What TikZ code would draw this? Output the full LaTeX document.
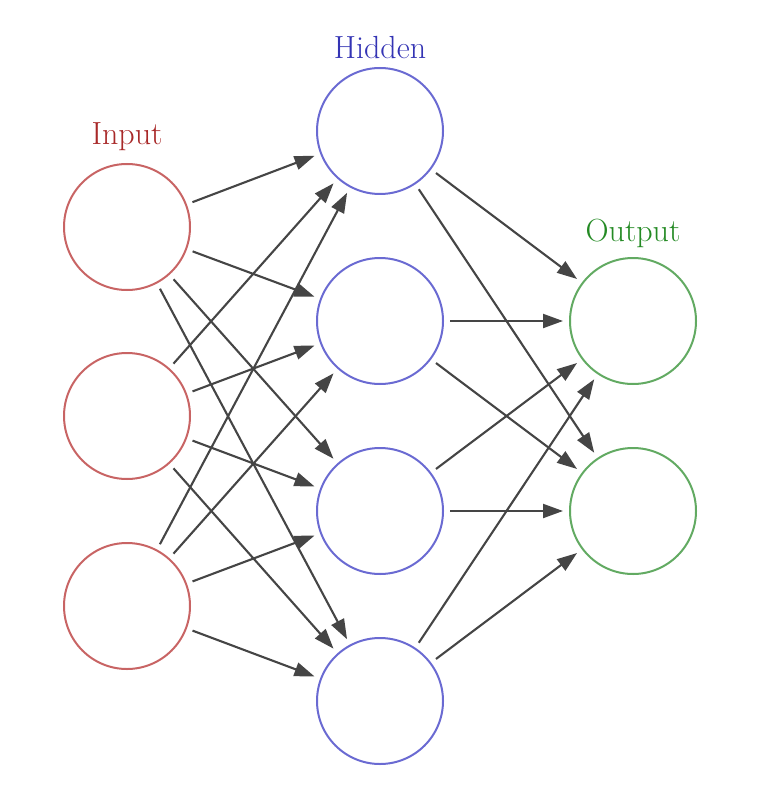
\documentclass[tikz,border=0pt]{standalone}
\usetikzlibrary{arrows.meta}
\definecolor{incirc}{HTML}{C86464}
\definecolor{hidcirc}{HTML}{6A6AD2}
\definecolor{outcirc}{HTML}{62AA62}
\definecolor{inlab}{HTML}{A82828}
\definecolor{hidlab}{HTML}{3434B4}
\definecolor{outlab}{HTML}{248A24}
\definecolor{edgecol}{HTML}{454545}
\begin{document}
\begin{tikzpicture}[x=0.5pt,y=-0.5pt,
  neuron/.style={circle,draw,line width=1pt,minimum size=63pt,inner sep=0pt,outer sep=0pt},
  inneuron/.style={neuron,draw=incirc},
  hidneuron/.style={neuron,draw=hidcirc},
  outneuron/.style={neuron,draw=outcirc},
  lab/.style={font=\fontsize{16}{19}\selectfont,inner sep=0pt},
  conn/.style={draw=edgecol,line width=1.05pt,-{Triangle[length=10pt,width=7pt]},shorten >=3.5pt,shorten <=3.5pt}]
\useasboundingbox (0,0) rectangle (760,786);
\foreach \i/\y in {1/227,2/416,3/606} \node[inneuron] (I\i) at (127,\y) {};
\foreach \i/\y in {1/131,2/321,3/511,4/701} \node[hidneuron] (H\i) at (380,\y) {};
\foreach \i/\y in {1/321,2/511} \node[outneuron] (O\i) at (633,\y) {};
\node[lab,text=inlab] (Lin) at (127,137) {Input};
\node[lab,text=hidlab] (Lhid) at (380,48) {Hidden};
\node[lab,text=outlab] (Lout) at (633,233) {Output};
\foreach \i in {1,2,3} \foreach \j in {1,2,3,4} \draw[conn] (I\i) -- (H\j);
\foreach \j in {1,2,3,4} \foreach \k in {1,2} \draw[conn] (H\j) -- (O\k);
\end{tikzpicture}
\end{document}
